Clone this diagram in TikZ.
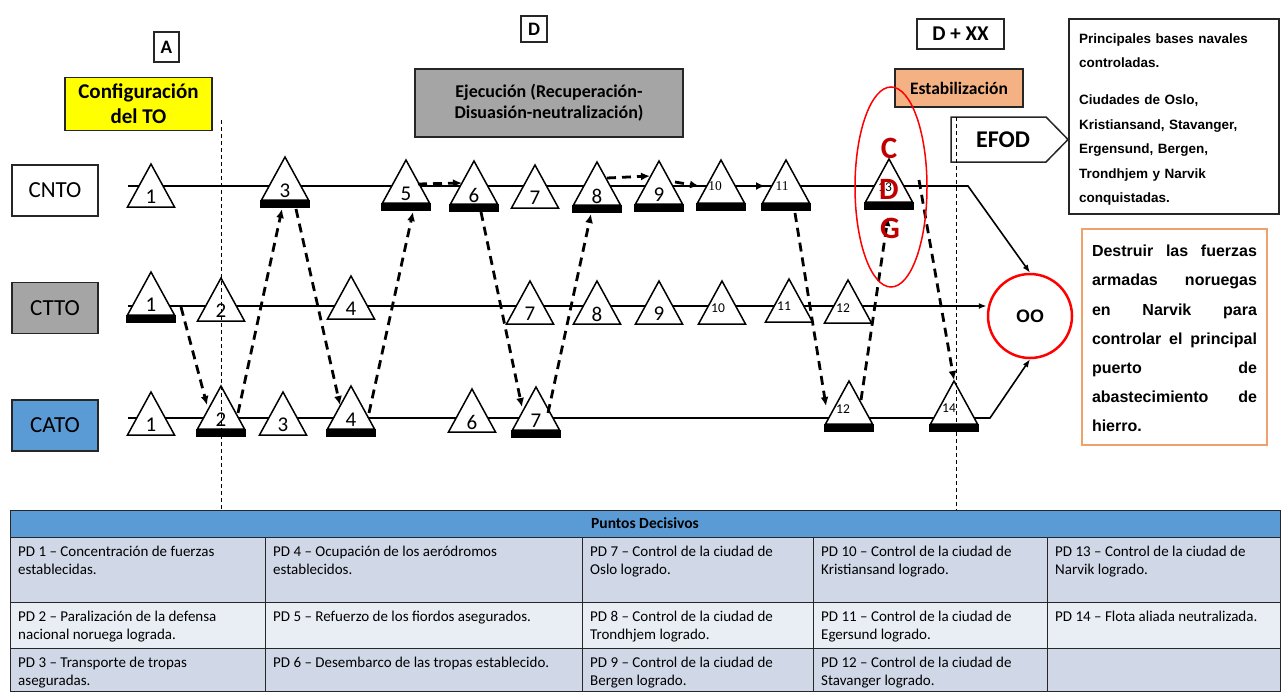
\documentclass[tikz,border=0pt]{standalone}
\usepackage{fontspec}
\setmainfont{Carlito}
\newfontfamily\arial{Liberation Sans}
\newfontfamily\romana{Liberation Serif}
\usetikzlibrary{arrows.meta,shapes.geometric}

\definecolor{amarillo}{HTML}{FFFF00}
\definecolor{gris}{HTML}{A5A5A5}
\definecolor{azul}{HTML}{5B9BD5}
\definecolor{naranja}{HTML}{F4B183}
\definecolor{naranjaborde}{HTML}{F0A06A}
\definecolor{filaA}{HTML}{D0D8E8}
\definecolor{filaB}{HTML}{E9EDF4}
\definecolor{rojo}{HTML}{C00000}
\definecolor{marco}{HTML}{262626}

\newcommand{\chica}{\fontsize{13.5}{13.5}\selectfont}

\begin{document}
\begin{tikzpicture}[x=1pt,y=-1pt,
  fila/.style={draw=marco,line width=1.5pt,minimum width=86pt,minimum height=51pt,inner sep=0pt,font=\fontsize{23}{23}\selectfont},
  fase/.style={draw=marco,line width=1.5pt,inner sep=0pt,align=center},
  hito/.style={draw,line width=1.5pt,fill=white,line join=miter},
  num/.style={inner sep=0pt,font=\fontsize{21}{21}\selectfont},
  linea/.style={line width=1.6pt},
  punta/.style={-{Latex[length=8pt,width=6pt]}},
  salto/.style={line width=2.8pt,dash pattern=on 9pt off 6pt,-{Latex[length=9pt,width=8pt]}},
  guia/.style={line width=0.9pt,dash pattern=on 4pt off 3pt},
  tabla/.style={draw=marco,line width=1pt},
  celda/.style={anchor=north west,inner sep=0pt,align=left,font=\fontsize{15}{18.5}\selectfont},
  cdg/.style={text=rojo,inner sep=0pt,font=\bfseries\fontsize{31}{31}\selectfont}
]
\useasboundingbox (0,0) rectangle (1282,691);

% filas
\node[fila,fill=white] (cnto) at (55,190.5) {CNTO};
\node[fila,fill=gris] (ctto) at (55,308) {CTTO};
\node[fila,fill=azul] (cato) at (55,425.5) {CATO};

% fases
\node[fase,minimum width=25pt,minimum height=30pt,font=\bfseries\fontsize{19}{19}\selectfont] (a) at (166.5,47) {A};
\node[fase,minimum width=26pt,minimum height=26pt,font=\bfseries\fontsize{19}{19}\selectfont] (d) at (534,29) {D};
\node[fase,minimum width=87pt,minimum height=30pt,font=\bfseries\fontsize{21}{21}\selectfont] (dxx) at (960.5,34) {D + XX};
\node[fase,fill=amarillo,minimum width=147pt,minimum height=53pt,font=\bfseries\fontsize{21}{25}\selectfont] (config) at (138.5,104) {Configuración\\del TO};
\node[fase,fill=gris,minimum width=268pt,minimum height=68pt,font=\bfseries\fontsize{18}{21}\selectfont] (ejec) at (549,103) {Ejecución (Recuperación-\\Disuasión-neutralización)};
\node[fase,fill=naranja,minimum width=128pt,minimum height=38pt,font=\bfseries\fontsize{17.5}{17.5}\selectfont] (estab) at (959,88) {Estabilización};
\filldraw[draw=marco,fill=white,line width=1.5pt] (951,117) -- (1046,117) -- (1068,139.5) -- (1046,162) -- (951,162) -- cycle;
\node[inner sep=0pt,font=\bfseries\fontsize{24}{24}\selectfont] (efod) at (1003,139.5) {EFOD};

% objetivo
\node[circle,draw=red,line width=2.5pt,minimum size=84pt,inner sep=0pt,font=\arial\bfseries\fontsize{18}{18}\selectfont] (oo) at (1030,316) {OO};

\coordinate (cnto-ini) at (128,186);
\coordinate (cnto-fin) at (968,186);
\coordinate (ctto-ini) at (128,306);
\coordinate (cato-ini) at (128,418);
\coordinate (cato-fin) at (990,418);
\draw[linea,punta] (cnto-ini) -- (cnto-fin) -- (oo.north);
\draw[linea,punta] (ctto-ini) -- (ctto-ini -| oo.west);
\draw[linea,punta] (cato-ini) -- (cato-fin) -- (oo.south);

% puntos decisivos
\foreach \n/\x/\b/\t/\dx/\dy in {cnto1/151/207/1/0/10, cnto3/285/200/3/0/9, cnto5/406/203/5/0/9,
  cnto6/474/204/6/0/9, cnto7/535/208/7/0/10, cnto8/597/205/8/0/9, cnto9/659/204/9/0/9,
  cnto10/721/203/{\romana\chica 10}/-6/17, cnto11/786/203/{\romana\chica 11}/-4/17, cnto13/889/202/{\chica 13}/-4/15,
  ctto1/151/315/1/0/10, ctto2/221/321/2/0/10, ctto4/351/319/4/0/10, ctto7/530/324/7/0/10,
  ctto8/597/324/8/0/10, ctto9/659/324/9/0/10, ctto10/722/324/{\chica 10}/-4/16,
  ctto11/789/322/{\chica 11}/-5/16, ctto12/848/323/{\chica 12}/-5/15,
  cato1/151/435/1/0/10, cato2/221/429/2/0/9, cato3/283/435/3/0/10, cato4/351/429/4/0/9,
  cato6/472/432/6/0/10, cato7/536/430/7/0/9, cato12/849/424/{\chica 12}/-6/15, cato14/954/424/{\chica 14}/-5/16}
{
  \draw[hito] (\x-23.5,\b) -- (\x,\b-43) -- (\x+23.5,\b) -- cycle;
  \coordinate (\n) at (\x,\b);
  \node[num] (\n-num) at (\x+\dx,\b-\dy) {\t};
}
\foreach \n in {cnto3,cnto5,cnto6,cnto8,cnto9,cnto10,cnto11,cnto13,ctto1,cato2,cato4,cato7,cato12,cato14}
  \fill ([xshift=-25pt]\n) rectangle ([xshift=25pt,yshift=-8pt]\n);

% saltos entre lineas
\draw[salto] ([shift={(30,-8)}]ctto1) -- ([shift={(-14,-24)}]cato2);
\draw[salto] ([shift={(17,-16)}]cato2) -- ([shift={(-3,9)}]cnto3);
\draw[salto] ([shift={(11,9)}]cnto3) -- ([shift={(-11,-24)}]cato4);
\draw[salto] ([shift={(18,-16)}]cato4) -- ([shift={(7,9)}]cnto5);
\draw[salto] ([shift={(7,8)}]cnto6) -- ([shift={(-14,-23)}]cato7);
\draw[salto] ([shift={(12,-17)}]cato7) -- ([shift={(-6,9)}]cnto8);
\draw[salto] ([shift={(9,10)}]cnto11) -- ([shift={(-23,-18)}]cato12);
\draw[salto] ([shift={(12,-24)}]cato12) -- ([shift={(-1,15)}]cnto13);
\draw[salto] ([shift={(30,-22)}]cnto13) -- ([shift={(0,-44)}]cato14);
\draw[salto] ([shift={(12,-19)}]cnto5) -- ([shift={(-12,-21)}]cnto6);
\draw[salto] ([shift={(10,-27)}]cnto8) -- ([shift={(-9,-28)}]cnto9);
\draw[salto] ([shift={(16,-22)}]cnto9) -- ([shift={(-22,-17)}]cnto10);
\draw[salto] ([shift={(14,-17)}]cnto10) -- ([shift={(-21,-17)}]cnto11);

% centro de gravedad
\node[ellipse,draw=red,line width=1.5pt,minimum width=72pt,minimum height=200pt] (cerco) at (891,187) {};
\node[cdg] (letra-c) at (889,148) {C};
\node[cdg] (letra-d) at (889,189) {D};
\node[cdg] (letra-g) at (890,228) {G};

% cuadros de texto
\node[draw=marco,line width=1.2pt,minimum width=210pt,minimum height=195pt,inner sep=0pt] (bases) at (1174,116.5) {};
\node[text width=190pt,align=left,inner sep=0pt,font=\arial\bfseries\fontsize{13.5}{24.5}\selectfont] (bases-txt) at (1174,119.6)
  {Principales bases navales\\controladas.\\[12.5pt]Ciudades de Oslo,\\Kristiansand, Stavanger,\\Ergensund, Bergen,\\Trondhjem y Narvik\\conquistadas.};
\node[draw=naranjaborde,line width=1.5pt,minimum width=185pt,minimum height=216pt,inner sep=0pt] (objetivo) at (1174.5,337) {};
\node[text width=165pt,align=left,inner sep=0pt,font=\arial\bfseries\fontsize{16}{29.2}\selectfont] (objetivo-txt) at (1174.5,338.5)
  {Destruir\hfill las\hfill fuerzas\\armadas\hfill noruegas\\en\hfill Narvik\hfill para\\controlar\hfill el\hfill principal\\puerto\hfill de\\abastecimiento\hfill de\\hierro.};

% tabla
\foreach \ya/\yb/\col in {537/602/filaA,602/648/filaB,648/691/filaA}
  \fill[fill=\col] (10,\ya) rectangle (1280,\yb);
\foreach \y in {537,602,648}
  \draw[tabla] (10,\y) -- (1280,\y);
\foreach \x in {265,582,813,1047}
  \draw[tabla] (\x,537) -- (\x,691);
\draw[tabla] (10,510) rectangle (1280,691);
\node[tabla,fill=azul,minimum width=1270pt,minimum height=27pt,inner sep=0pt,font=\bfseries\fontsize{15.5}{15.5}\selectfont] (pd) at (645,523.5) {Puntos Decisivos};
\foreach \n/\x/\y/\t in {
  1/18/545.5/{PD 1 -- Concentración de fuerzas\\establecidas.},
  2/18/610.5/{PD 2 -- Paralización de la defensa\\nacional noruega lograda.},
  3/18/656.5/{PD 3 -- Transporte de tropas\\aseguradas.},
  4/273/545.5/{PD 4 -- Ocupación de los aeródromos\\establecidos.},
  5/273/610.5/{PD 5 -- Refuerzo de los fiordos asegurados.},
  6/273/656.5/{PD 6 -- Desembarco de las tropas establecido.},
  7/590/545.5/{PD 7 -- Control de la ciudad de\\Oslo logrado.},
  8/590/610.5/{PD 8 -- Control de la ciudad de\\Trondhjem logrado.},
  9/590/656.5/{PD 9 -- Control de la ciudad de\\Bergen logrado.},
  10/821/545.5/{PD 10 -- Control de la ciudad de\\Kristiansand logrado.},
  11/821/610.5/{PD 11 -- Control de la ciudad de\\Egersund logrado.},
  12/821/656.5/{PD 12 -- Control de la ciudad de\\Stavanger logrado.},
  13/1055/545.5/{PD 13 -- Control de la ciudad de\\Narvik logrado.},
  14/1055/610.5/{PD 14 -- Flota aliada neutralizada.}}
  \node[celda] (pd\n) at (\x,\y) {\t};

% lineas de tiempo
\coordinate (guia-a) at (221,120);
\coordinate (guia-b) at (956,117);
\draw[guia] (guia-a) -- (guia-a |- pd.north);
\draw[guia] (guia-b) -- (guia-b |- pd.north);
\end{tikzpicture}
\end{document}
